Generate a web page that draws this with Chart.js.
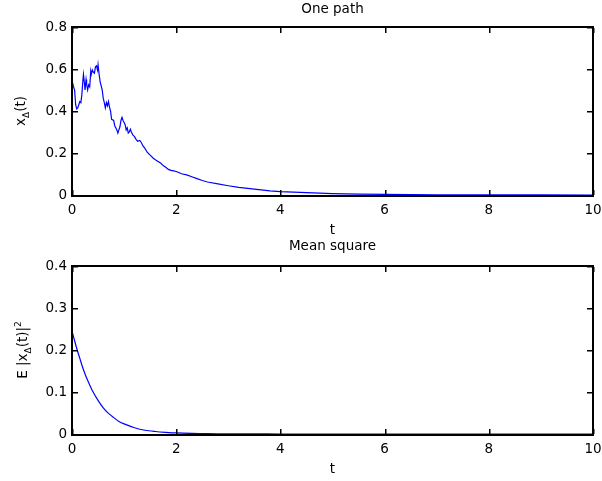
<!DOCTYPE html>
<html>
<head>
<meta charset="utf-8">
<script src="https://cdn.jsdelivr.net/npm/chart.js@4/dist/chart.umd.min.js"></script>
<style>
  body { margin: 0; background: #fff; }
  #wrap { position: relative; width: 602px; height: 481px; }
  #wrap canvas { position: absolute; left: 0; top: 0; }
</style>
</head>
<body>
<div id="wrap">
  <canvas id="pathChart" width="602" height="481"></canvas>
  <canvas id="meanChart" width="602" height="481"></canvas>
</div>
<script>
const FONT = '"DejaVu Sans", "Liberation Sans", Arial, sans-serif';
const FSIZE = 13.5;

// one sample path x_Δ(t)
const pathT = [0, 0.01, 0.03, 0.05, 0.07, 0.09, 0.11, 0.13, 0.15, 0.17, 0.19, 0.21, 0.22, 0.24, 0.25,
  0.27, 0.28, 0.30, 0.32, 0.34, 0.36, 0.37, 0.39, 0.41, 0.43, 0.45, 0.47, 0.49, 0.50, 0.52, 0.54,
  0.56, 0.58, 0.60, 0.62, 0.64, 0.66, 0.68, 0.70, 0.72, 0.74, 0.76, 0.78, 0.80, 0.82, 0.84, 0.86,
  0.88, 0.90, 0.92, 0.94, 0.96, 0.98, 1.00, 1.02, 1.04, 1.06, 1.08, 1.10, 1.12, 1.14, 1.17, 1.20,
  1.23, 1.26, 1.30, 1.33, 1.36, 1.40, 1.44, 1.48, 1.52, 1.56, 1.60, 1.65, 1.70, 1.75, 1.80, 1.85,
  1.90, 1.95, 2.00, 2.05, 2.10, 2.20, 2.30, 2.40, 2.50, 2.60, 2.80, 3.00, 3.20, 3.50, 3.80, 4.00,
  4.50, 5.00, 5.50, 6.00, 6.50, 7.00, 8.00, 9.00, 10.00];
const pathX = [0.53, 0.535, 0.515, 0.50, 0.43, 0.41, 0.415, 0.43, 0.445, 0.44, 0.48, 0.55, 0.575, 0.53, 0.50,
  0.55, 0.53, 0.50, 0.525, 0.515, 0.59, 0.575, 0.595, 0.585, 0.58, 0.61, 0.615, 0.595, 0.62, 0.575, 0.54,
  0.52, 0.50, 0.46, 0.44, 0.415, 0.44, 0.425, 0.445, 0.418, 0.40, 0.36, 0.358, 0.355, 0.33, 0.32, 0.31,
  0.295, 0.31, 0.325, 0.355, 0.37, 0.355, 0.345, 0.335, 0.31, 0.32, 0.295, 0.30, 0.313, 0.30, 0.285, 0.278,
  0.265, 0.256, 0.26, 0.25, 0.235, 0.222, 0.205, 0.195, 0.185, 0.175, 0.168, 0.16, 0.152, 0.14, 0.132, 0.122,
  0.117, 0.115, 0.112, 0.107, 0.101, 0.096, 0.087, 0.078, 0.069, 0.062, 0.053, 0.044, 0.036, 0.028, 0.020, 0.016,
  0.011, 0.007, 0.004, 0.003, 0.002, 0.001, 0.0005, 0.0002, 0.0001];

// mean square E|x_Δ(t)|^2
const meanT = [0, 0.05, 0.1, 0.15, 0.2, 0.25, 0.3, 0.4, 0.5, 0.6, 0.7, 0.8, 0.9, 1.0, 1.2, 1.4,
  1.6, 1.8, 2.0, 2.3, 2.6, 3.0, 3.5, 4, 5, 6, 8, 10];
const meanSq = [0.245, 0.222, 0.200, 0.180, 0.160, 0.143, 0.128, 0.101, 0.080, 0.062, 0.049, 0.039,
  0.030, 0.024, 0.015, 0.009, 0.006, 0.004, 0.0025, 0.0013, 0.0007, 0.0003, 0.0001, 0.00005, 0, 0, 0, 0];

const xTicksStep = 2;
const pathYMax = 0.8, meanYMax = 0.4;

// rotated label made of pieces (for subscripts / superscripts)
function drawRotated(ctx, parts, x, cy) {
  ctx.save();
  ctx.translate(x, cy);
  ctx.rotate(-Math.PI / 2);
  let w = 0;
  parts.forEach(p => { ctx.font = p.size + 'px ' + FONT; p.w = ctx.measureText(p.text).width; w += p.w; });
  let cx = -w / 2;
  ctx.textBaseline = 'alphabetic';
  ctx.textAlign = 'left';
  parts.forEach(p => { ctx.font = p.size + 'px ' + FONT; ctx.fillText(p.text, cx, p.dy); cx += p.w; });
  ctx.restore();
}

// matlab style box with inward ticks, title and labels
const matlabBox = {
  id: 'matlabBox',
  afterDraw(chart, args, opts) {
    const { ctx, chartArea: a, scales } = chart;
    const L = Math.round(a.left), R = Math.round(a.right);
    const T = Math.round(a.top), B = Math.round(a.bottom);
    ctx.save();
    ctx.fillStyle = '#000';
    // box, 2px like the exported figure
    ctx.fillRect(L - 1, T - 1, R - L + 2, 2);
    ctx.fillRect(L - 1, B, R - L + 2, 2);
    ctx.fillRect(L - 1, T - 1, 2, B - T + 3);
    ctx.fillRect(R - 1, T - 1, 2, B - T + 3);
    scales.x.ticks.forEach(t => {
      const px = Math.round(scales.x.getPixelForValue(t.value));
      ctx.fillRect(px, B - 5, 1.5, 5);
      ctx.fillRect(px, T + 1, 1.5, 5);
    });
    scales.y.ticks.forEach(t => {
      const py = Math.round(scales.y.getPixelForValue(t.value));
      ctx.fillRect(L + 1, py, 5, 1.5);
      ctx.fillRect(R - 6, py, 5, 1.5);
    });

    ctx.textAlign = 'center';
    ctx.textBaseline = 'alphabetic';
    ctx.font = FSIZE + 'px ' + FONT;
    const mid = (a.left + a.right) / 2;
    ctx.fillText(opts.title, mid, opts.titleY);
    ctx.fillText('t', mid, a.bottom + 39);
    drawRotated(ctx, opts.ylabel, opts.ylabelX, (a.top + a.bottom) / 2);
    ctx.restore();
  }
};

function noPad(s) { s.paddingLeft = 0; s.paddingRight = 0; s.paddingTop = 0; s.paddingBottom = 0; }

function makeOptions(yMax, padTop, padBottom, axisH, box) {
  return {
    responsive: false,
    animation: false,
    devicePixelRatio: 1,
    layout: { padding: { left: 0, right: 9, top: padTop, bottom: padBottom } },
    plugins: { legend: { display: false }, tooltip: { enabled: false }, matlabBox: box },
    scales: {
      x: {
        type: 'linear', min: 0, max: 10,
        ticks: { stepSize: xTicksStep, padding: 7, color: '#000', maxRotation: 0, font: { family: FONT, size: FSIZE } },
        grid: { display: false, drawTicks: false },
        border: { display: false },
        afterFit(s) { s.height = axisH; noPad(s); }
      },
      y: {
        min: 0, max: yMax,
        ticks: { stepSize: yMax / 4, padding: 5, color: '#000', font: { family: FONT, size: FSIZE } },
        grid: { display: false, drawTicks: false },
        border: { display: false },
        afterFit(s) { s.width = 72; noPad(s); }
      }
    }
  };
}

new Chart(document.getElementById('pathChart'), {
  type: 'line',
  data: {
    datasets: [{
      data: pathT.map((t, i) => ({ x: t, y: pathX[i] })),
      borderColor: '#0000ff', borderWidth: 1.2, pointRadius: 0, tension: 0, fill: false
    }]
  },
  options: makeOptions(pathYMax, 27, 481 - 240, 240 - 195, {
    title: 'One path', titleY: 13, ylabelX: 25,
    ylabel: [{ text: 'x', size: FSIZE, dy: 0 }, { text: 'Δ', size: 9, dy: 4 }, { text: '(t)', size: FSIZE, dy: 0 }]
  }),
  plugins: [matlabBox]
});

new Chart(document.getElementById('meanChart'), {
  type: 'line',
  data: {
    datasets: [{
      data: meanT.map((t, i) => ({ x: t, y: meanSq[i] })),
      borderColor: '#0000ff', borderWidth: 1.2, pointRadius: 0, tension: 0.3, fill: false
    }]
  },
  options: makeOptions(meanYMax, 266, 0, 481 - 434, {
    title: 'Mean square', titleY: 250, ylabelX: 27,
    ylabel: [{ text: 'E |x', size: FSIZE, dy: 0 }, { text: 'Δ', size: 9, dy: 4 }, { text: '(t)|', size: FSIZE, dy: 0 },
      { text: '2', size: 9, dy: -6 }]
  }),
  plugins: [matlabBox]
});
</script>
</body>
</html>
